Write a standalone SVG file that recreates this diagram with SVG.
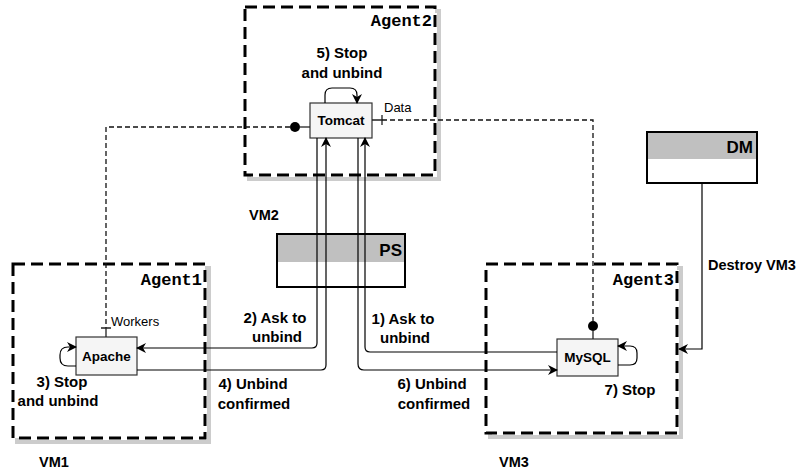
<svg xmlns="http://www.w3.org/2000/svg" width="804" height="472" viewBox="0 0 804 472">
<style>
.shadow{fill:none;stroke:#cccccc;stroke-width:4}
.vm{fill:#ffffff;stroke:#000;stroke-width:3;stroke-dasharray:12,6}
.hdr{fill:#c0c0c0}
.agent{font-family:"Liberation Mono",monospace;font-weight:bold;font-size:17px;text-anchor:end}
.box{fill:#ffffff;stroke:#000;stroke-width:2}
.boxt{font-family:"Liberation Sans",Arial,sans-serif;font-weight:bold;font-size:17px;text-anchor:end}
.comp{fill:#f5f5f5;stroke:#333;stroke-width:1.2}
.compt{font-family:"Liberation Sans",Arial,sans-serif;font-weight:bold;font-size:13.5px;text-anchor:middle}
.lbl{font-family:"Liberation Sans",Arial,sans-serif;font-weight:bold;font-size:15px;text-anchor:middle}
.lbls{font-family:"Liberation Sans",Arial,sans-serif;font-size:13px}
.lblb{font-family:"Liberation Sans",Arial,sans-serif;font-weight:bold;font-size:14.5px}
.edge{fill:none;stroke:#000;stroke-width:1.2}
.dash{fill:none;stroke:#111;stroke-width:1.3;stroke-dasharray:5,3}
.solid{fill:none;stroke:#222;stroke-width:1.3}
</style>
<defs>
<marker id="arr" viewBox="0 0 10 10" refX="9" refY="5" markerWidth="10" markerHeight="10" markerUnits="userSpaceOnUse" orient="auto">
<path d="M0,0 L10,5 L0,10 L3,5 z" fill="#000"/>
</marker>
</defs>

<g id="agent2">
<rect x="249" y="11" width="190" height="168" class="shadow"/>
<rect x="245" y="7" width="190" height="168" fill="#fff"/>
<rect x="245" y="7" width="190" height="26" class="hdr"/>
<rect x="245" y="7" width="190" height="168" class="vm" fill="none"/>
<text x="432" y="26" class="agent">Agent2</text>
</g>

<g id="agent1">
<rect x="17" y="268" width="192" height="174" class="shadow"/>
<rect x="13" y="264" width="192" height="174" fill="#fff"/>
<rect x="13" y="264" width="192" height="29" class="hdr"/>
<rect x="13" y="264" width="192" height="174" class="vm" fill="none"/>
<text x="202" y="285" class="agent">Agent1</text>
</g>

<g id="agent3">
<rect x="490" y="268" width="191" height="169" class="shadow"/>
<rect x="486" y="264" width="191" height="169" fill="#fff"/>
<rect x="486" y="264" width="191" height="29" class="hdr"/>
<rect x="486" y="264" width="191" height="169" class="vm" fill="none"/>
<text x="674" y="285" class="agent">Agent3</text>
</g>

<g id="ps">
<rect x="277" y="234" width="128" height="53" class="box"/>
<rect x="278" y="235" width="126" height="27" class="hdr"/>
<text x="402" y="256" class="boxt">PS</text>
</g>

<g id="dm">
<rect x="647" y="132" width="110" height="51" class="box"/>
<rect x="648" y="133" width="108" height="26" class="hdr"/>
<text x="753" y="153" class="boxt">DM</text>
</g>

<g id="tomcat">
<rect x="310" y="103" width="62" height="35" class="comp"/>
<text x="341" y="125" class="compt">Tomcat</text>
</g>

<g id="apache">
<rect x="76" y="337" width="61" height="38" class="comp"/>
<text x="106.5" y="361" class="compt">Apache</text>
</g>

<g id="mysql">
<rect x="557" y="339" width="61" height="37" class="comp"/>
<text x="587.5" y="362" class="compt">MySQL</text>
</g>

<g id="connectors">
<path d="M310,127 H300" class="solid"/>
<circle cx="295" cy="127" r="5" fill="#000"/>
<path d="M290,127 H106 V328" class="dash"/>
<path d="M101,328 H111 M106,328 V337" class="solid"/>
<text x="111" y="326" class="lbls">Workers</text>
<path d="M372,120 H382 M382,115 V125" class="solid"/>
<path d="M382,120 H593 V321" class="dash"/>
<circle cx="593" cy="326" r="5" fill="#000"/>
<path d="M593,331 V339" class="solid"/>
<text x="384" y="112" class="lbls">Data</text>
<path d="M325,103 V95 Q325,88 332,88 H350 Q357,88 357,95 V103" class="edge" marker-end="url(#arr)"/>
<path d="M76,366 H68 Q60,366 60,358 V355 Q60,347 68,347 H76" class="edge" marker-end="url(#arr)"/>
<path d="M618,365 H630 Q637,365 637,358 V353 Q637,346 630,346 H618" class="edge" marker-end="url(#arr)"/>
<path d="M317,138 V343 Q317,348 312,348 H137" class="edge" marker-end="url(#arr)"/>
<path d="M137,370 H321 Q326,370 326,365 V138" class="edge" marker-end="url(#arr)"/>
<path d="M557,352 H370 Q365,352 365,347 V138" class="edge" marker-end="url(#arr)"/>
<path d="M358,138 V364 Q358,370 364,370 H557" class="edge" marker-end="url(#arr)"/>
<path d="M702,183 V349 H679" class="edge" marker-end="url(#arr)"/>
</g>

<g id="labels">
<text x="342" y="58" class="lbl">5) Stop</text>
<text x="342" y="78" class="lbl">and unbind</text>
<text x="62" y="387" class="lbl">3) Stop</text>
<text x="58" y="406" class="lbl">and unbind</text>
<text x="630" y="395" class="lbl">7) Stop</text>
<text x="275" y="323" class="lbl">2) Ask to</text>
<text x="277" y="342" class="lbl">unbind</text>
<text x="403" y="324" class="lbl">1) Ask to</text>
<text x="405" y="343" class="lbl">unbind</text>
<text x="253" y="389" class="lbl">4) Unbind</text>
<text x="254" y="409" class="lbl">confirmed</text>
<text x="432" y="389" class="lbl">6) Unbind</text>
<text x="434" y="409" class="lbl">confirmed</text>
<text x="708" y="270" class="lblb">Destroy VM3</text>
<text x="249" y="220" class="lblb">VM2</text>
<text x="39" y="467" class="lblb">VM1</text>
<text x="499" y="467" class="lblb">VM3</text>
</g>
</svg>
